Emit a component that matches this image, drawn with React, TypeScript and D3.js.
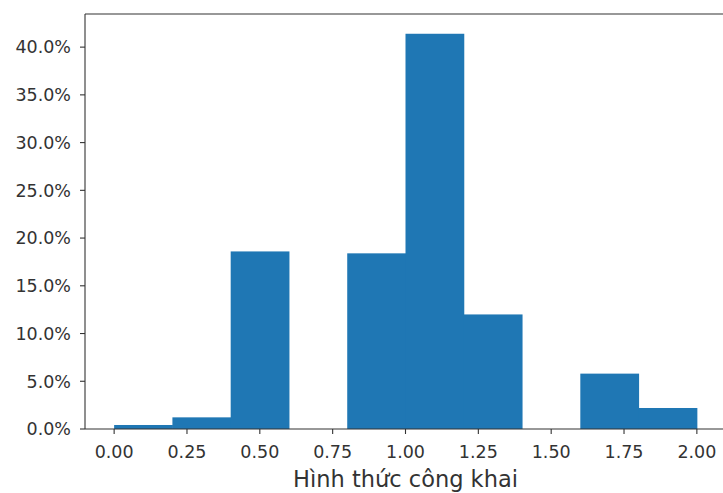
import React from "react";
import * as d3 from "d3";

const binEdges = [0, 0.2, 0.4, 0.6, 0.8, 1.0, 1.2, 1.4, 1.6, 1.8, 2.0];
const binPercents = [0.42, 1.22, 18.6, 0, 18.4, 41.4, 12.0, 0, 5.8, 2.2];
const xTicks = [0, 0.25, 0.5, 0.75, 1.0, 1.25, 1.5, 1.75, 2.0];
const yTicks = [0, 5, 10, 15, 20, 25, 30, 35, 40];
const xLabel = "Hình thức công khai";

export default function App() {
  const W = 723, H = 493;
  const left = 85, right = 726, top = 14, bottom = 429;
  const x = d3.scaleLinear().domain([-0.1, 2.1]).range([left, right]);
  const yMax = d3.max(binPercents)! * 1.05;
  const y = d3.scaleLinear().domain([0, yMax]).range([bottom, top]);
  const font = "DejaVu Sans, sans-serif";
  const txt = "#333";
  return (
    <svg width={W} height={H} style={{ position: "absolute", left: 0, top: 0 }}>
      <rect x={0} y={0} width={W} height={H} fill="#fff" />
      {binPercents.map((v, i) =>
        v > 0 ? (
          <rect
            key={i}
            x={x(binEdges[i])}
            y={y(v)}
            width={x(binEdges[i + 1]) - x(binEdges[i]) + 0.5}
            height={bottom - y(v)}
            fill="#1f77b4"
          />
        ) : null
      )}
      <line x1={left} x2={left} y1={top} y2={bottom} stroke="#333" strokeWidth={1.1} />
      <line x1={left} x2={right} y1={bottom} y2={bottom} stroke="#333" strokeWidth={1.1} />
      <line x1={left} x2={right} y1={top} y2={top} stroke="#333" strokeWidth={1.1} />
      <line x1={right} x2={right} y1={top} y2={bottom} stroke="#333" strokeWidth={1.1} />
      {yTicks.map((t) => (
        <g key={t}>
          <line x1={left - 5} x2={left} y1={y(t)} y2={y(t)} stroke="#333" strokeWidth={1.1} />
          <text x={left - 14} y={y(t)} dy="0.36em" textAnchor="end" fontFamily={font} fontSize={17.5} fill={txt}>
            {t.toFixed(1) + "%"}
          </text>
        </g>
      ))}
      {xTicks.map((t) => (
        <g key={t}>
          <line x1={x(t)} x2={x(t)} y1={bottom} y2={bottom + 5} stroke="#333" strokeWidth={1.1} />
          <text x={x(t)} y={bottom + 29} textAnchor="middle" fontFamily={font} fontSize={17.5} fill={txt}>
            {t.toFixed(2)}
          </text>
        </g>
      ))}
      <text x={(left + right) / 2} y={487} textAnchor="middle" fontFamily={font} fontSize={22.5} fill={txt}>
        {xLabel}
      </text>
    </svg>
  );
}
